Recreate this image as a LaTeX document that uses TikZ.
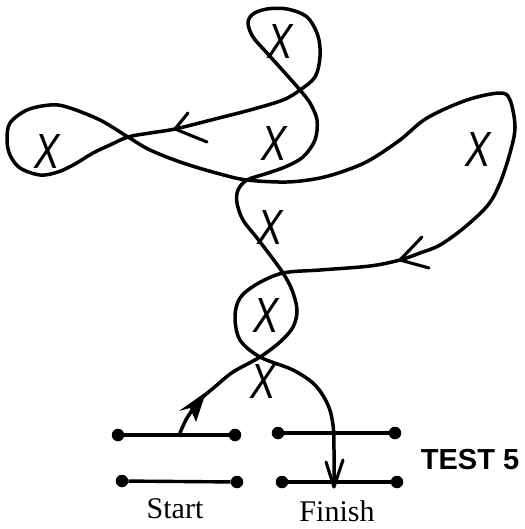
\documentclass[tikz,border=0pt]{standalone}
\usepackage{fontspec}
\setmainfont{Liberation Serif}
\newfontfamily\headfont{Liberation Sans}
\begin{document}
\begin{tikzpicture}[x=1pt,y=-1pt,
  curve/.style={line width=3.5pt, line cap=round, line join=round},
  bar/.style={line width=3.4pt},
  dot/.style={circle, fill, inner sep=0pt, minimum size=12.5pt},
  xmk/.style={font=\headfont\itshape\fontsize{38}{38}\selectfont, inner sep=0pt, transform shape, yscale=1.3},
  lbl/.style={font=\fontsize{30}{30}\selectfont, inner sep=0pt},
  ahead/.style={line width=3.1pt, line cap=round, line join=round}]
\useasboundingbox (0,0) rectangle (524,529);

% bars with end dots
\node[dot] (s1l) at (118,435) {};
\node[dot] (s1r) at (235,435) {};
\node[dot] (s2l) at (122,481) {};
\node[dot] (s2r) at (237,482) {};
\node[dot] (f1l) at (278,433) {};
\node[dot] (f1r) at (395,433) {};
\node[dot] (f2l) at (282,482) {};
\node[dot] (f2r) at (397,482) {};
\draw[bar] (s1l) -- (s1r);
\draw[bar] (s2l) -- (s2r);
\draw[bar] (f1l) -- (f1r);
\draw[bar] (f2l) -- (f2r);

% labels
\node[lbl] (startlbl) at (175,509) {Start};
\node[lbl] (finishlbl) at (337,511) {Finish};
\node[font=\headfont\bfseries\fontsize{29}{29}\selectfont, inner sep=0pt] (test) at (470,460) {TEST 5};

% the maze path
\coordinate (pbeg) at (180,433);
\coordinate (pend) at (334,486);
\draw[curve] plot[smooth, tension=0.55] coordinates {
 (pbeg) (187,418) (200,400) (217,385) (233,372) (260,357)
 (280,342) (293,327) (297,310) (292,290) (283,273)
 (270,255) (257,238) (243,220) (237,203) (238,190) (247,180)
 (265,174) (285,167) (303,157) (315,140) (317,120) (310,103) (300,90)
 (285,73) (267,53) (253,37) (248,23) (253,14) (267,9) (287,9) (307,17)
 (318,36) (320,57) (315,77) (300,90)
 (283,100) (250,110) (215,119) (175,129) (150,133) (128,137)
 (110,145) (93,153) (75,164) (58,172) (40,175) (20,168) (10,155) (7,140)
 (10,123) (27,110) (50,105) (67,107) (100,120) (128,137)
 (150,150) (183,163) (220,174) (247,180)
 (287,182) (320,178) (347,170) (370,160) (400,140) (427,118) (467,100)
 (500,93) (510,100) (515,127) (510,153) (500,183) (488,205) (465,227)
 (440,245) (420,253) (400,260) (370,266) (320,270) (283,273)
 (257,284) (240,298) (235,317) (240,340) (260,357)
 (293,370) (315,385) (328,405) (333,425) (334,450) (pend)};

% arrowheads
\coordinate (tipL) at (175,129);
\draw[ahead] (188,113) -- (tipL) -- (207,142);
\coordinate (tipR) at (400,260);
\draw[ahead] (422,237) -- (tipR) -- (429,268);
\coordinate (tipF) at (334,487);
\draw[ahead] (326,462) -- (tipF) -- (343,460);
\coordinate (tipS) at (206,392);
\fill (tipS) -- (179,411) -- (190,408) -- (196,422) -- cycle;

% X marks
\node[xmk] (x1) at (280,42) {X};
\node[xmk] (x2) at (47,152) {X};
\node[xmk] (x3) at (274,144) {X};
\node[xmk] (x4) at (478,150) {X};
\node[xmk] (x5) at (270,228) {X};
\node[xmk] (x6) at (266,316) {X};
\node[xmk] (x7) at (263,382) {X};
\end{tikzpicture}
\end{document}
